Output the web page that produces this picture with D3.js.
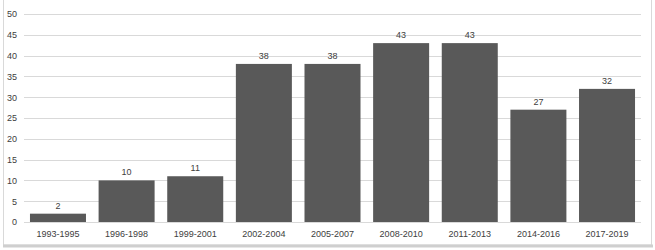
<!DOCTYPE html>
<html>
<head>
<meta charset="utf-8">
<script src="https://cdn.jsdelivr.net/npm/d3@7"></script>
<style>
  body { margin: 0; background: #fff; }
  svg text { font-family: "Liberation Sans Narrow", "Liberation Sans", sans-serif; font-size: 9px; fill: #404040; }
</style>
</head>
<body>
<div id="container"></div>
<script>
/* DATA */
const periods = ["1993-1995", "1996-1998", "1999-2001", "2002-2004", "2005-2007",
  "2008-2010", "2011-2013", "2014-2016", "2017-2019"];
const counts = [2, 10, 11, 38, 38, 43, 43, 27, 32];
const yTicks = [0, 5, 10, 15, 20, 25, 30, 35, 40, 45, 50];

/* CONSTANTS */
const width = 655,
  height = 250,
  margin = { top: 14, bottom: 28, left: 24, right: 14 };

const data = periods.map((p, i) => ({ period: p, count: counts[i] }));

const svg = d3.select("#container")
  .append("svg")
  .attr("width", width)
  .attr("height", height);

// chart frame
svg.append("rect")
  .attr("x", 3.5)
  .attr("y", -1)
  .attr("width", 648)
  .attr("height", 246)
  .attr("fill", "#fff")
  .attr("stroke", "#d9d9d9");

svg.append("line")
  .attr("x1", 3)
  .attr("x2", 653)
  .attr("y1", 246)
  .attr("y2", 246)
  .attr("stroke", "#cfcfcf")
  .attr("stroke-width", 3);

/* SCALES */
const xScale = d3.scaleBand()
  .domain(periods)
  .range([margin.left, width - margin.right])
  .paddingInner(0.184)
  .paddingOuter(0.087);

const yScale = d3.scaleLinear()
  .domain([0, 50])
  .range([height - margin.bottom, margin.top]);

// gridlines
svg.append("g")
  .selectAll("line")
  .data(yTicks)
  .join("line")
  .attr("x1", margin.left)
  .attr("x2", width - margin.right)
  .attr("y1", d => Math.round(yScale(d)) + 0.5)
  .attr("y2", d => Math.round(yScale(d)) + 0.5)
  .attr("stroke", "#d9d9d9");

// y axis labels
const yAxis = svg.append("g")
  .attr("transform", `translate(${margin.left - 7}, 0)`)
  .call(d3.axisLeft(yScale).tickValues(yTicks).tickSize(0).tickPadding(0));
yAxis.select(".domain").remove();
yAxis.selectAll("text").attr("fill", "#595959");

// bars
svg.selectAll("rect.bar")
  .data(data)
  .join("rect")
  .attr("class", "bar")
  .attr("x", d => xScale(d.period))
  .attr("y", d => yScale(d.count))
  .attr("width", xScale.bandwidth())
  .attr("height", d => yScale(0) - yScale(d.count))
  .attr("fill", "#595959");

// value labels
svg.selectAll("text.value")
  .data(data)
  .join("text")
  .attr("class", "value")
  .attr("x", d => xScale(d.period) + xScale.bandwidth() / 2)
  .attr("y", d => yScale(d.count) - 5)
  .attr("text-anchor", "middle")
  .text(d => d.count);

// x axis labels
const xAxis = svg.append("g")
  .attr("transform", `translate(0, ${yScale(0)})`)
  .call(d3.axisBottom(xScale).tickSize(0).tickPadding(9));
xAxis.select(".domain").remove();
xAxis.selectAll("text").attr("fill", "#595959");
</script>
</body>
</html>
